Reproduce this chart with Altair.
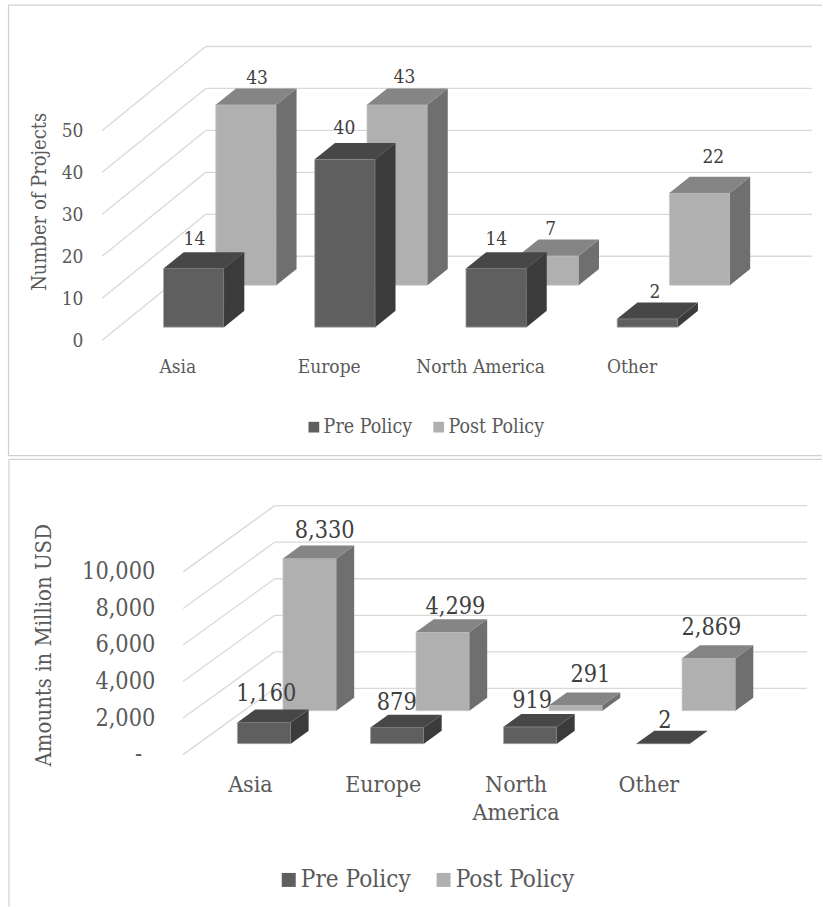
import altair as alt
import pandas as pd

FONT = "DejaVu Serif Condensed"
WIDTH = 823

categories = ["Asia", "Europe", "North America", "Other"]
series = ["Pre Policy", "Post Policy"]

# Number of projects per region
projects_pre = [14, 40, 14, 2]
projects_post = [43, 43, 7, 22]
projects_ticks = [0, 10, 20, 30, 40, 50]
# Amounts in million USD per region
amounts_pre = [1160, 879, 919, 2]
amounts_post = [8330, 4299, 291, 2869]
amounts_ticks = [0, 2000, 4000, 6000, 8000, 10000]

# Small shifts that move value labels off the bar centres (dx, dy in pixels)
projects_pre_nudge = [(0.7, -13), (-0.5, -14.7), (0.1, -13), (7.5, -10)]
projects_post_nudge = [(11, -11), (7.2, -12), (2.2, -11), (13.7, -20)]
amounts_pre_nudge = [(2.2, -15.6), (-0.4, -11.8), (2, -13.3), (1.7, -10)]
amounts_post_nudge = [(15, -15), (12.7, -12.7), (14.7, -17), (2.7, -17)]

# Front, side, top and edge shade of each series
SHADES = {
    "Pre Policy": ("#5f5f5f", "#3b3b3b", "#474747", "#a8a8a8"),
    "Post Policy": ("#b0b0b0", "#6f6f6f", "#858585", "#c8c8c8"),
}
GRID = "#d9d9d9"
FRAME = "#d0d0d0"
AXIS_TEXT = "#595959"
VALUE_TEXT = "#404040"


def panel(pre, post, ticks, pre_nudge, post_nudge, g):
    k = g["px_per_unit"]
    H = g["height"]
    floor = g["floor_y"]

    def val(px):  # vertical pixel distance expressed in value units
        return px / k

    x_scale = alt.Scale(domain=[0, WIDTH], nice=False, zero=False)
    y_scale = alt.Scale(domain=[val(floor - H), val(floor)], nice=False, zero=False)
    y_axis = alt.Axis(
        values=ticks, offset=-g["label_right"], labelPadding=0,
        ticks=False, domain=False, grid=False, labelFont=FONT,
        labelFontSize=g["tick_size"], labelColor=AXIS_TEXT,
        labelExpr=g["label_expr"], labelOverlap=False,
        title=g["title"], titleFont=FONT, titleFontWeight="normal",
        titleFontSize=g["title_size"], titleColor=AXIS_TEXT,
        titleX=g["title_x"] - g["label_right"], titleY=g["title_y"],
        titleAngle=270, titleAlign="center", titleBaseline="middle",
    )
    X = alt.X("x:Q", scale=x_scale, axis=None)
    Y = alt.Y("y:Q", scale=y_scale, axis=y_axis)
    color = alt.Color(
        "series:N",
        scale=alt.Scale(domain=series, range=[SHADES[s][0] for s in series]),
        legend=alt.Legend(
            orient="none", legendX=g["legend_x"], legendY=g["legend_y"],
            direction="horizontal", title=None, symbolType="square",
            symbolSize=g["symbol_size"], symbolStrokeWidth=0,
            symbolOpacity=1, labelFont=FONT, labelFontSize=g["legend_size"],
            labelColor=AXIS_TEXT, labelOffset=g["legend_gap"],
            columnPadding=g["legend_column"], padding=0,
        ),
    )

    # Walls: slanted side lines plus the horizontal lines on the back
    wall = []
    for t in ticks:
        back = t + val(g["wall_dy"])
        wall.append(dict(x=g["wall_x0"], y=t, x2=g["wall_x0"] + g["wall_dx"], y2=back))
        wall.append(dict(x=g["wall_x0"] + g["wall_dx"], y=back, x2=g["wall_x1"], y2=back))

    layers = [
        alt.Chart(pd.DataFrame(wall)).mark_rule(color=GRID, strokeWidth=1.3).encode(
            x=X, y=Y, x2="x2:Q", y2="y2:Q",
        )
    ]

    # Boxes are painted back row first so the front row covers them
    rows = [("Post Policy", post, g["post_x"], g["post_depth"]),
            ("Pre Policy", pre, g["pre_x"], g["pre_depth"])]
    for name, values, left0, depth in rows:
        front, side, top = [], [], []
        base = val(depth)
        for i, v in enumerate(values):
            bar = f"{name}-{i}"
            x0 = left0 + i * g["step"]
            x1 = x0 + g["bar_w"]
            dx, dy = g["box_dx"], val(g["box_dy"])
            y0, y1 = base, base + v
            front.append(dict(x=x0, x2=x1, y=y0, y2=y1, series=name))
            side += [dict(bar=bar, x=x1, y=y1, y2=y0),
                     dict(bar=bar, x=x1 + dx, y=y1 + dy, y2=y0 + dy)]
            top += [dict(bar=bar, y=y1, x=x0, x2=x1),
                    dict(bar=bar, y=y1 + dy, x=x0 + dx, x2=x1 + dx)]
        _, side_col, top_col, edge_col = SHADES[name]
        layers += [
            alt.Chart(pd.DataFrame(front)).mark_rect(stroke=edge_col, strokeWidth=0.7).encode(
                x=X, x2="x2:Q", y=Y, y2="y2:Q", color=color),
            alt.Chart(pd.DataFrame(side)).mark_area(color=side_col).encode(
                x=X, y=Y, y2="y2:Q", detail="bar:N"),
            alt.Chart(pd.DataFrame(top)).mark_area(color=top_col, orient="horizontal").encode(
                y=Y, x=X, x2="x2:Q", detail="bar:N"),
        ]

    # Value labels above each box
    value_rows = []
    for values, left0, depth, nudge in ((post, g["post_x"], g["post_depth"], post_nudge),
                                        (pre, g["pre_x"], g["pre_depth"], pre_nudge)):
        for i, v in enumerate(values):
            value_rows.append(dict(
                x=left0 + i * g["step"] + g["bar_w"] / 2 + nudge[i][0],
                y=val(depth + g["box_dy"] - nudge[i][1]) + v,
                text=f"{v:,}",
            ))
    layers.append(
        alt.Chart(pd.DataFrame(value_rows))
        .mark_text(font=FONT, fontSize=g["value_size"], color=VALUE_TEXT, baseline="middle")
        .encode(x=X, y=Y, text="text:N")
    )

    # Region names under the floor
    cat_rows = []
    for i, c in enumerate(categories):
        lines = c.split(" ") if g["wrap"] and " " in c else [c]
        for j, line in enumerate(lines):
            cat_rows.append(dict(
                x=g["cat_x"] + i * g["cat_step"],
                y=-val(g["cat_y"] - floor + j * g["cat_line"]),
                text=line,
            ))
    layers.append(
        alt.Chart(pd.DataFrame(cat_rows))
        .mark_text(font=FONT, fontSize=g["cat_size"], color=AXIS_TEXT, baseline="middle")
        .encode(x=X, y=Y, text="text:N")
    )

    # Frame around the panel, open on the right
    for fx, fx2, fy, fy2 in g["frame"]:
        layers.append(
            alt.Chart(pd.DataFrame({"a": [0]})).mark_rule(color=FRAME, strokeWidth=1.2).encode(
                x=alt.value(fx), x2=alt.value(fx2), y=alt.value(fy), y2=alt.value(fy2))
        )

    return alt.layer(*layers).properties(width=WIDTH, height=H).resolve_scale(color="shared")


top_geom = dict(
    px_per_unit=4.2, height=458, floor_y=340,
    wall_x0=102.3, wall_dx=103.7, wall_dy=84, wall_x1=813,
    pre_x=163.7, post_x=216, step=151.4, bar_w=60.6,
    pre_depth=13, post_depth=55, box_dx=20.3, box_dy=16.3,
    cat_x=178, cat_step=151.6, cat_y=366.7, cat_line=28, cat_size=19, wrap=False,
    value_size=19, tick_size=19, label_right=83,
    label_expr="format(datum.value, ',')",
    title="Number of Projects", title_size=20, title_x=40, title_y=201,
    legend_x=304.5, legend_y=417, legend_size=19.5, symbol_size=115,
    legend_gap=0, legend_column=16,
    frame=[(8.5, WIDTH, 4.5, 4.5), (8.5, 8.5, 4.5, 455.7), (8.5, WIDTH, 455.7, 455.7)],
)

bottom_geom = dict(
    px_per_unit=0.0183, height=449, floor_y=297,
    wall_x0=183.3, wall_dx=91.7, wall_dy=66.3, wall_x1=808,
    pre_x=237.7, post_x=283.3, step=133.2, bar_w=53.5,
    pre_depth=11, post_depth=44, box_dx=17.8, box_dy=12.9,
    cat_x=250.7, cat_step=133, cat_y=327, cat_line=28.7, cat_size=23, wrap=True,
    value_size=23.3, tick_size=23.3, label_right=155,
    label_expr="datum.value === 0 ? '-\u00a0\u00a0\u200b' : format(datum.value, ',')",
    title="Amounts in Million USD", title_size=22, title_x=43.3, title_y=187,
    legend_x=277, legend_y=410, legend_size=24.2, symbol_size=196,
    legend_gap=0, legend_column=20,
    frame=[(9, WIDTH, 1.3, 1.3), (9, 9, 1.3, 449)],
)

chart = (
    alt.vconcat(
        panel(projects_pre, projects_post, projects_ticks,
              projects_pre_nudge, projects_post_nudge, top_geom),
        panel(amounts_pre, amounts_post, amounts_ticks,
              amounts_pre_nudge, amounts_post_nudge, bottom_geom),
        spacing=0,
    )
    .resolve_scale(color="independent")
    .properties(padding=0, background="white")
    .configure_view(stroke=None)
)

chart.save("out.html", embed_options={"renderer": "svg", "actions": False})
